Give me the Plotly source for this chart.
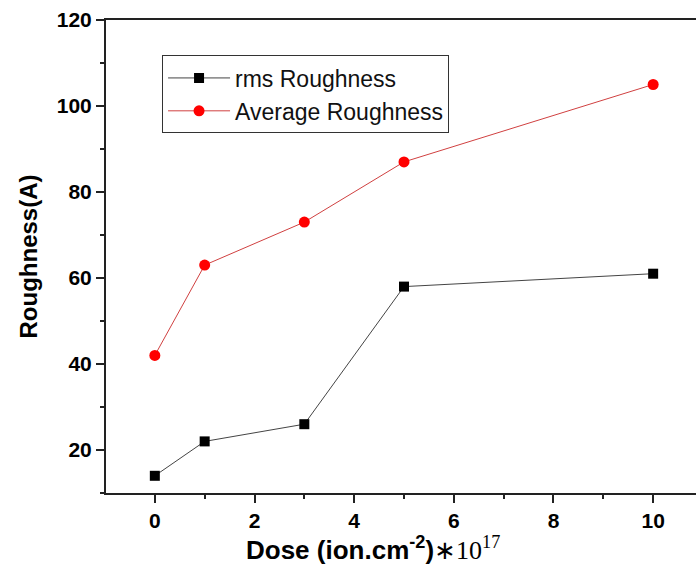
import plotly.graph_objects as go

dose = [0, 1, 3, 5, 10]
rms_roughness = [14, 22, 26, 58, 61]
avg_roughness = [42, 63, 73, 87, 105]

FONT = "Arial, Liberation Sans, sans-serif"

fig = go.Figure()
fig.add_trace(go.Scatter(
    x=dose, y=rms_roughness, mode="lines+markers", name="rms Roughness",
    line=dict(color="#444444", width=1),
    marker=dict(symbol="square", size=10, color="black"),
))
fig.add_trace(go.Scatter(
    x=dose, y=avg_roughness, mode="lines+markers", name="Average Roughness",
    line=dict(color="#d04040", width=1),
    marker=dict(symbol="circle", size=11, color="#ff0000"),
))

tick_font = dict(family=FONT, size=21, color="black", weight="bold")
axis_line = dict(showline=True, linecolor="#222222", linewidth=2,
                 ticks="outside", ticklen=8, tickwidth=2, tickcolor="#222222",
                 showgrid=False, zeroline=False, tickfont=tick_font)

fig.update_layout(
    width=696, height=579,
    margin=dict(l=106, r=0, t=20, b=86),
    plot_bgcolor="white", paper_bgcolor="white",
    showlegend=True,
    legend=dict(
        x=0.095, y=0.925, xanchor="left", yanchor="top",
        bgcolor="white", bordercolor="#333333", borderwidth=1,
        font=dict(family=FONT, size=23, color="#111111"),
        tracegroupgap=0, itemwidth=62,
    ),
    xaxis=dict(
        range=[-0.98, 10.86], tickvals=[0, 2, 4, 6, 8, 10], mirror=True,
        minor=dict(tickvals=[1, 3, 5, 7, 9], ticks="outside", ticklen=4,
                   tickwidth=2, tickcolor="#222222"),
        **axis_line,
    ),
    yaxis=dict(
        range=[10, 120], tickvals=[20, 40, 60, 80, 100, 120], mirror=False,
        minor=dict(tickvals=[10, 30, 50, 70, 90, 110], ticks="outside", ticklen=4,
                   tickwidth=2, tickcolor="#222222"),
        title=dict(
            text="<b>Roughness(A)</b>",
            font=dict(family=FONT, size=24, color="black"),
            standoff=12,
        ),
        **axis_line,
    ),
)

# x-axis title, placed a little left of the plot centre
fig.add_annotation(
    text="<b>Dose (ion.cm<sup>-2</sup>)</b><span style='font-family:Liberation Serif, Times New Roman, serif'>∗10<sup>17</sup></span>",
    xref="paper", yref="paper", x=0.4525, y=-0.118,
    xanchor="center", yanchor="middle", showarrow=False,
    font=dict(family=FONT, size=26, color="black"),
)

fig.write_html("out.html")
